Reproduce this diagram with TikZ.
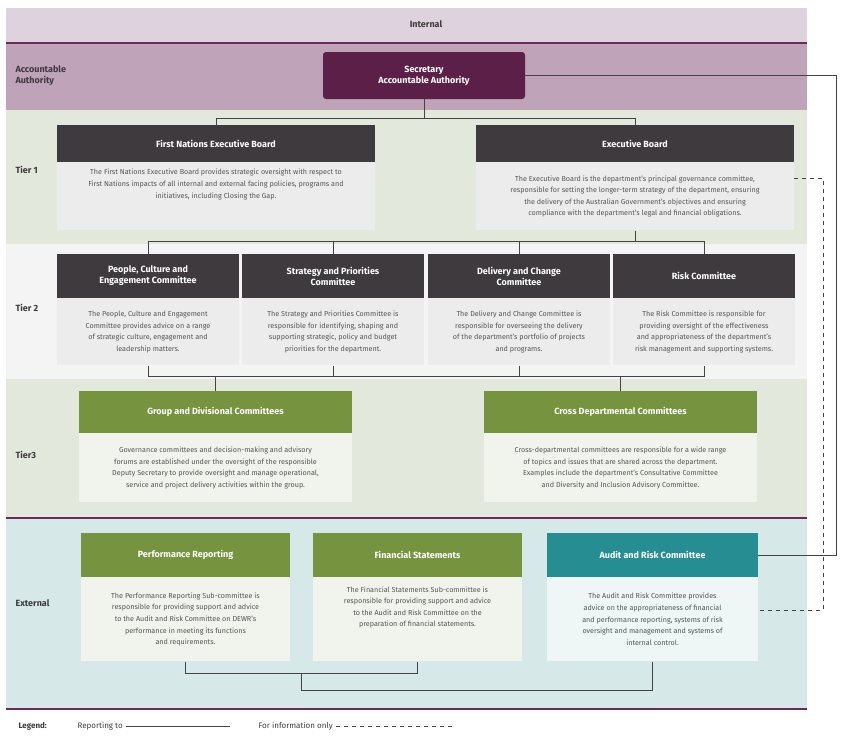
\documentclass[tikz,border=0pt]{standalone}
\usepackage{fontspec}
\setmainfont{Fira Sans}
\usetikzlibrary{positioning}
\definecolor{bandint}{HTML}{DED3DC}
\definecolor{bandacc}{HTML}{BFA3B8}
\definecolor{bandtier}{HTML}{E3E8DC}
\definecolor{bandgrey}{HTML}{F4F4F4}
\definecolor{bandext}{HTML}{D6E8E8}
\definecolor{plum}{HTML}{5C1F48}
\definecolor{rule}{HTML}{6B2A58}
\definecolor{darkhead}{HTML}{3E3A3D}
\definecolor{greenhead}{HTML}{76943F}
\definecolor{tealhead}{HTML}{268E93}
\definecolor{bodytxt}{HTML}{555555}
\definecolor{line}{HTML}{444444}
\begin{document}
\begin{tikzpicture}[
    x=1pt, y=-1pt,
    band/.style={font=\bfseries\small, text=darkhead, anchor=west, align=left},
    head/.style={rectangle, text=white, font=\bfseries\small, align=center, inner sep=0pt},
    darkbox/.style={head, fill=darkhead},
    greenbox/.style={head, fill=greenhead},
    tealbox/.style={head, fill=tealhead},
    body/.style={rectangle, anchor=north, inner sep=0pt, align=center, font=\fontsize{7.2}{11.6}\selectfont, text=bodytxt},
    conn/.style={draw=line, line width=1pt},
    info/.style={conn, dash pattern=on 4pt off 4pt}
]
    \useasboundingbox (0,0) rectangle (845,744);
    % Bands
    \fill[bandint] (6,8) rectangle (807,43);
    \fill[bandacc] (6,43) rectangle (807,110);
    \fill[bandtier] (6,110) rectangle (807,244);
    \fill[bandgrey] (6,244) rectangle (807,379);
    \fill[bandtier] (6,379) rectangle (807,518);
    \fill[bandext] (6,518) rectangle (807,709);
    \draw[rule, line width=1.2pt] (6,43) -- (807,43);
    \draw[rule, line width=1.2pt] (6,518) -- (807,518);
    \draw[rule, line width=1.2pt] (6,709) -- (807,709);

    % Band labels
    \node[font=\bfseries\small, text=darkhead] (lint) at (426,24) {Internal};
    \node[band] (lacc) at (12,76) {Accountable\\Authority};
    \node[band] (lt1) at (12,170) {Tier 1};
    \node[band] (lt2) at (12,308) {Tier 2};
    \node[band] (lt3) at (12,455) {Tier3};
    \node[band] (lext) at (12,603) {External};

    % Accountable authority
    \node[head, fill=plum, rounded corners=3pt, minimum width=202pt, minimum height=47pt] (sec) at (424,75.5) {Secretary\\Accountable Authority};

    % Tier 1
    \node[darkbox, minimum width=318pt, minimum height=37pt] (fneb) at (216,143.5) {First Nations Executive Board};
    \node[body, fill=gray!15, minimum width=318pt, minimum height=68pt] (fnebtxt) at (fneb.south) {The First Nations Executive Board provides strategic oversight with respect to\\First Nations impacts of all internal and external facing policies, programs and\\initiatives, including Closing the Gap.\\[14pt]};
    \node[darkbox, minimum width=318pt, minimum height=37pt] (eb) at (635,143.5) {Executive Board};
    \node[body, fill=gray!15, minimum width=318pt, minimum height=68pt] (ebtxt) at (eb.south) {The Executive Board is the department’s principal governance committee,\\responsible for setting the longer-term strategy of the department, ensuring\\the delivery of the Australian Government’s objectives and ensuring\\compliance with the department’s legal and financial obligations.};

    % Tier 2
    \node[darkbox, minimum width=182pt, minimum height=44pt] (pce) at (148,276) {People, Culture and\\Engagement Committee};
    \node[body, fill=gray!15, minimum width=182pt, minimum height=67pt] (pcetxt) at (pce.south) {The People, Culture and Engagement\\Committee provides advice on a range\\of strategic culture, engagement and\\leadership matters.};
    \node[darkbox, minimum width=182pt, minimum height=44pt] (spc) at (333,276) {Strategy and Priorities\\Committee};
    \node[body, fill=gray!15, minimum width=182pt, minimum height=67pt] (spctxt) at (spc.south) {The Strategy and Priorities Committee is\\responsible for identifying, shaping and\\supporting strategic, policy and budget\\priorities for the department.};
    \node[darkbox, minimum width=182pt, minimum height=44pt] (dcc) at (519,276) {Delivery and Change\\Committee};
    \node[body, fill=gray!15, minimum width=182pt, minimum height=67pt] (dcctxt) at (dcc.south) {The Delivery and Change Committee is\\responsible for overseeing the delivery\\of the department’s portfolio of projects\\and programs.};
    \node[darkbox, minimum width=182pt, minimum height=44pt] (risk) at (704,276) {Risk Committee};
    \node[body, fill=gray!15, minimum width=182pt, minimum height=67pt] (risktxt) at (risk.south) {The Risk Committee is responsible for\\providing oversight of the effectiveness\\and appropriateness of the department’s\\risk management and supporting systems.};

    % Tier 3
    \node[greenbox, minimum width=273pt, minimum height=42pt] (grp) at (215.5,412) {Group and Divisional Committees};
    \node[body, fill=greenhead!10, minimum width=273pt, minimum height=69pt] (grptxt) at (grp.south) {Governance committees and decision-making and advisory\\forums are established under the oversight of the responsible\\Deputy Secretary to provide oversight and manage operational,\\service and project delivery activities within the group.};
    \node[greenbox, minimum width=273pt, minimum height=42pt] (crs) at (620.5,412) {Cross Departmental Committees};
    \node[body, fill=greenhead!10, minimum width=273pt, minimum height=69pt] (crstxt) at (crs.south) {Cross-departmental committees are responsible for a wide range\\of topics and issues that are shared across the department.\\Examples include the department’s Consultative Committee\\and Diversity and Inclusion Advisory Committee.};

    % External
    \node[greenbox, minimum width=209pt, minimum height=44pt] (perf) at (185.5,555) {Performance Reporting};
    \node[body, fill=greenhead!10, minimum width=209pt, minimum height=84pt] (perftxt) at (perf.south) {The Performance Reporting Sub-committee is\\responsible for providing support and advice\\to the Audit and Risk Committee on DEWR’s\\performance in meeting its functions\\and requirements.};
    \node[greenbox, minimum width=209pt, minimum height=44pt] (fin) at (417.5,555) {Financial Statements};
    \node[body, fill=greenhead!10, minimum width=209pt, minimum height=84pt] (fintxt) at (fin.south) {The Financial Statements Sub-committee is\\responsible for providing support and advice\\to the Audit and Risk Committee on the\\preparation of financial statements.\\[14pt]};
    \node[tealbox, minimum width=211pt, minimum height=44pt] (audit) at (652.5,555) {Audit and Risk Committee};
    \node[body, fill=tealhead!8, minimum width=211pt, minimum height=84pt] (audittxt) at (audit.south) {The Audit and Risk Committee provides\\advice on the appropriateness of financial\\and performance reporting, systems of risk\\oversight and management and systems of\\internal control.};

    % Reporting lines
    \draw[conn] (sec.south) -- ++(0,19) -| (fneb.north);
    \draw[conn] (sec.south) -- ++(0,19) -| (eb.north);
    \draw[conn] (ebtxt.south) -- ++(0,11) -| (pce.north);
    \draw[conn] (ebtxt.south) -- ++(0,11) -| (risk.north);
    \draw[conn] (ebtxt.south) -- ++(0,11) -| (spc.north);
    \draw[conn] (ebtxt.south) -- ++(0,11) -| (dcc.north);
    \draw[conn] (pcetxt.south) -- ++(0,11) -| (risktxt.south);
    \draw[conn] (spctxt.south) -- ++(0,11);
    \draw[conn] (dcctxt.south) -- ++(0,11);
    \draw[conn] (grp.north) -- ++(0,-15);
    \draw[conn] (crs.north) -- ++(0,-15);
    \draw[conn] (sec.east) -- ++(311,0) |- (audit.east);
    \draw[conn] (perftxt.south) -- ++(0,12) -| (fintxt.south);
    \coordinate (extjoin) at (301,673);
    \draw[conn] (extjoin) -- ++(0,17) -| (audittxt.south);

    % Information line
    \draw[info] ([yshift=18pt]ebtxt.east) -- ++(29,0) |- ([yshift=9pt]audittxt.east);

    % Legend
    \node[font=\bfseries\footnotesize, text=darkhead, anchor=west] (leg) at (15,726) {Legend:};
    \node[font=\footnotesize, text=darkhead, anchor=west] (legrep) at (74,726) {Reporting to};
    \coordinate (legrepend) at (230,726);
    \draw[conn] (legrep.east) -- (legrepend);
    \node[font=\footnotesize, text=darkhead, anchor=west] (leginf) at (255,726) {For information only};
    \coordinate (leginfend) at (455,726);
    \draw[info] (leginf.east) -- (leginfend);
\end{tikzpicture}
\end{document}
